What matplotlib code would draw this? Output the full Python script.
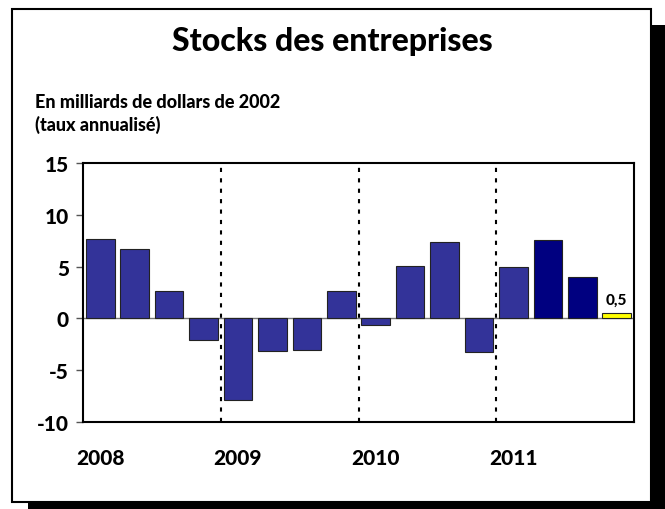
import matplotlib.pyplot as plt
from matplotlib.patches import Rectangle

# Quarterly values, 2008Q1 - 2011Q4
values = [7.7, 6.7, 2.6, -2.1, -7.9, -3.1, -3.05, 2.6,
          -0.65, 5.1, 7.35, -3.2, 5.0, 7.6, 4.0, 0.5]
colors = ['#333399'] * 13 + ['#000080', '#000080', '#FFFF00']
years = ['2008', '2009', '2010', '2011']
yticks = [-10, -5, 0, 5, 10, 15]
last_label = '0,5'

plt.rcParams['font.family'] = ['Lato', 'DejaVu Sans']
W = 900  # heavy weight, close to Gill Sans Bold

fig = plt.figure(figsize=(6.65, 5.1), dpi=100)

# shadow + frame
fig.patches.append(Rectangle((28/665, -0.02), 1.0, 1 - 26/510 + 0.02,
                             transform=fig.transFigure, facecolor='black',
                             edgecolor='none', zorder=0))
fig.patches.append(Rectangle((12/665, 1 - 503/510), (651-12)/665, (503-10)/510,
                             transform=fig.transFigure, facecolor='white',
                             edgecolor='black', linewidth=1.5, zorder=1))

ax = fig.add_axes([83/665, 87/510, (634-83)/665, (423-164)/510])
ax.set_zorder(2)
x = range(len(values))
ax.bar(x, values, width=0.83, color=colors, edgecolor='#222222', linewidth=0.8, zorder=3)
ax.axhline(0, color='#777777', linewidth=1.0, zorder=2)
for pos in [3.5, 7.5, 11.5]:
    ax.axvline(pos, color='black', linestyle=(0, (2, 3)), linewidth=1.5, zorder=1)

ax.text(len(values) - 1, values[-1] + 0.6, last_label, ha='center', va='bottom',
        fontsize=11, fontweight=W)

ax.set_xlim(-0.5, len(values) - 0.5)
ax.set_ylim(-10, 15)
ax.set_yticks(yticks)
ax.set_yticklabels([str(t) for t in yticks], fontsize=15, fontweight=W)
ax.tick_params(axis='y', direction='out', length=5, width=1, color='#555555', pad=5)
ax.set_xticks([0, 4, 8, 12])
ax.set_xticklabels(years, fontsize=15, fontweight=W)
ax.tick_params(axis='x', length=0, pad=19)
for s in ax.spines.values():
    s.set_linewidth(1.5)

fig.text(332/665, 1 - 42/510, 'Stocks des entreprises', ha='center', va='center',
         fontsize=23, fontweight=W)
fig.text(35/665, 1 - 103/510, 'En milliards de dollars de 2002', ha='left', va='center',
         fontsize=13, fontweight=W)
fig.text(35/665, 1 - 125/510, '(taux annualisé)', ha='left', va='center',
         fontsize=13, fontweight=W)

fig.savefig('out.png', dpi=100)
